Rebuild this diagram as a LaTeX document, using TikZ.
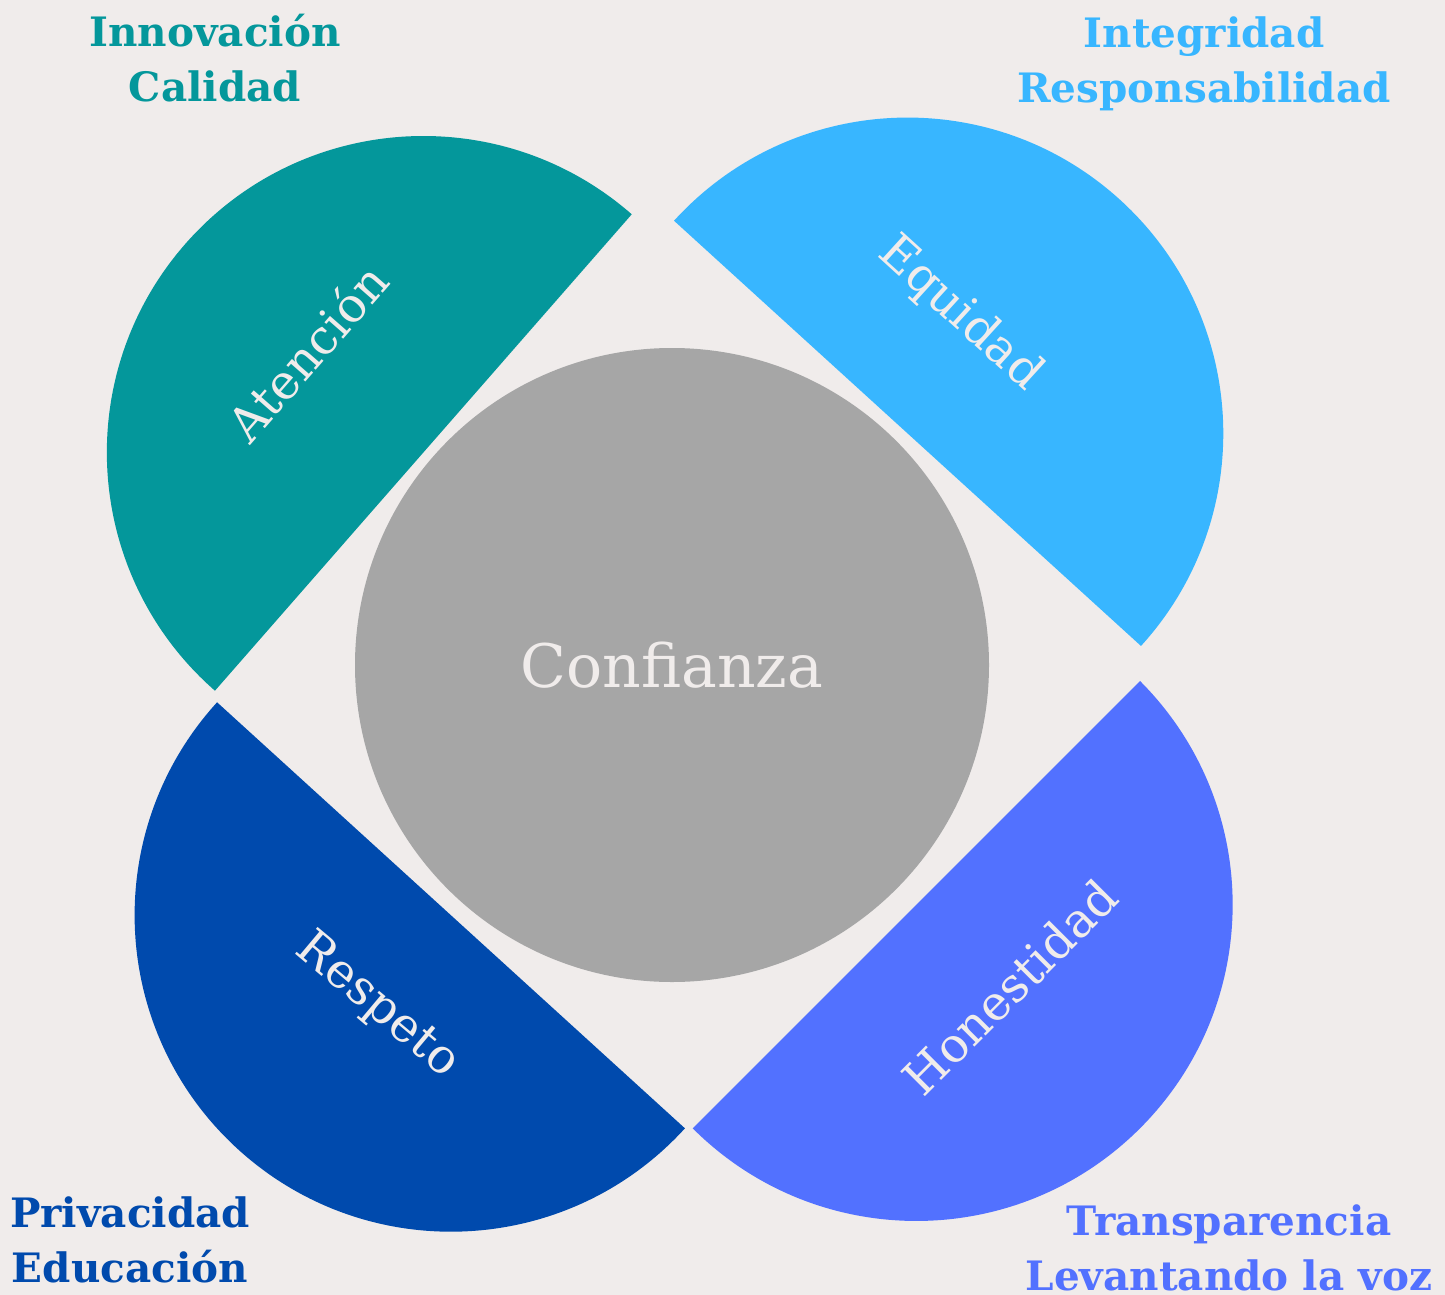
\documentclass[tikz,border=0pt]{standalone}
\usepackage{fontspec}
\setmainfont{DejaVu Serif}
\definecolor{bg}{HTML}{F0ECEB}
\definecolor{cteal}{HTML}{04979B}
\definecolor{clight}{HTML}{38B6FF}
\definecolor{cdark}{HTML}{004AAD}
\definecolor{croyal}{HTML}{5271FF}
\definecolor{cgray}{HTML}{A6A6A6}
\definecolor{ctext}{HTML}{F0ECEB}
\tikzset{
  petaltext/.style={text=ctext, font=\fontsize{48}{58}\selectfont, inner sep=0pt},
  cornerlabel/.style={font=\fontsize{40.5}{55}\selectfont\bfseries, align=center, inner sep=0pt, anchor=base},
}
\begin{document}
\begin{tikzpicture}[x=1pt,y=-1pt]
\fill[bg] (0,0) rectangle (1445,1295);
\useasboundingbox (0,0) rectangle (1445,1295);
% half disks
\fill[cteal]  (423.35,452.5) ++(131.18:316.5) arc[start angle=131.18, end angle=311.18, radius=316.5] -- cycle;
\fill[clight] (907.5,433.35) ++(-137.68:315.8) arc[start angle=-137.68, end angle=42.32, radius=315.8] -- cycle;
\fill[cdark]  (451,915.3) ++(42.32:316.4) arc[start angle=42.32, end angle=222.32, radius=316.4] -- cycle;
\fill[croyal] (916.35,904.65) ++(-45:316.3) arc[start angle=-45, end angle=135, radius=316.3] -- cycle;
% centre
\node[circle, fill=cgray, minimum size=634pt, inner sep=0pt] (core) at (672,665) {};
\node[text=ctext, font=\fontsize{60}{70}\selectfont, inner sep=0pt] (conf) at (core.center) {Confianza};
% petal labels
\node[petaltext, rotate=48.8] (aten) at (307,352) {Atención};
\node[petaltext, rotate=-42.3] (equi) at (960,314) {Equidad};
\node[petaltext, rotate=-40] (resp) at (377,1006) {Respeto};
\node[petaltext, rotate=45] (hone) at (1010,987) {Honestidad};
% corner labels (anchor = baseline of the last line)
\node[cornerlabel, text=cteal] (tl) at (215,102) {Innovación\\Calidad};
\node[cornerlabel, text=clight] (tr) at (1204,103) {Integridad\\Responsabilidad};
\node[cornerlabel, text=cdark] (bl) at (130,1282) {Privacidad\\Educación};
\node[cornerlabel, text=croyal] (br) at (1229,1290) {Transparencia\\Levantando la voz};
\end{tikzpicture}
\end{document}
